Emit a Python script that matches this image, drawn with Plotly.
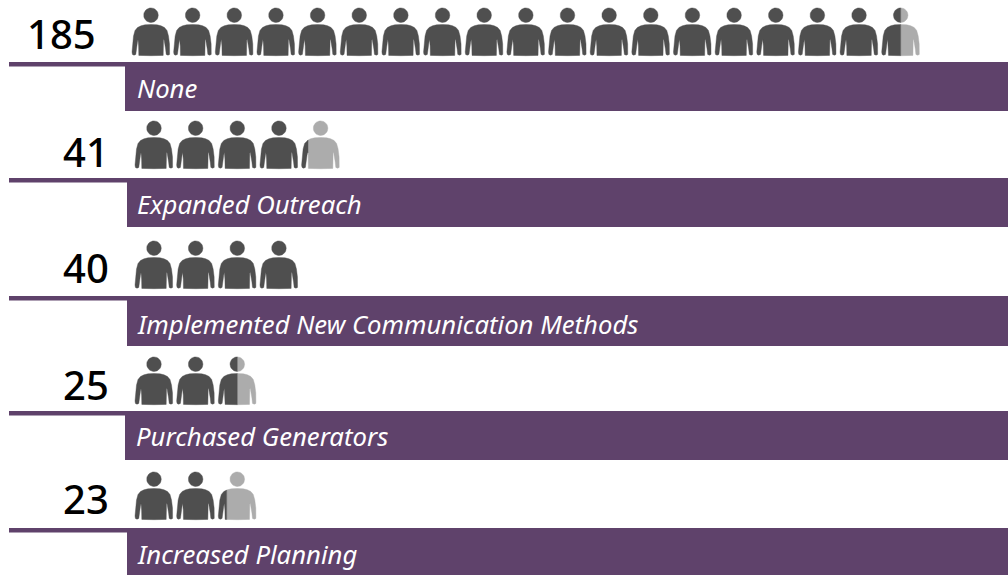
import math
import plotly.graph_objects as go

# --- data ---
values = [185, 41, 40, 25, 23]
labels = ["None", "Expanded Outreach", "Implemented New Communication Methods",
          "Purchased Generators", "Increased Planning"]
icons_shown = [18.5, 4.17, 4.0, 2.5, 2.22]   # icons filled
icon_slots = [19, 5, 4, 3, 3]                # icons drawn

# --- layout (pixel space of the page) ---
W, H = 1008, 575
PURPLE = "#5f426b"
DARK = "#4f4f4f"
LIGHT = "#acacac"
number_right = [97.5, 111, 111, 110.5, 110.5]
number_y = [33, 151.5, 267, 384, 498]
label_x = [134.5, 134.5, 134.5, 133.5, 134.5]
label_y = [88, 204.5, 324, 436.5, 554]
icon_left = [132, 135, 135, 135, 135]
icon_top = [8, 121, 241, 357, 472]
band_left = [125, 127, 127, 125, 127]
band_top = [62, 178, 296, 411, 528]
band_bottom = [111, 227, 346, 460, 575]
PITCH = 41.65
ICON_W = 38.0

half = [(0, 16.5), (6, 16.8), (10, 17.8), (13.5, 19.5), (16, 22.5), (17.5, 28), (18.5, 36),
        (19, 44), (18.6, 46.4), (17, 47.2), (15.2, 46.4), (14.6, 41), (13.6, 34.5), (13, 31.5),
        (12.5, 32), (12.4, 38), (12.2, 47.4), (0, 47.7)]
body = half + [(-x, y) for x, y in reversed(half[1:-1])]
head = [(7.3 * math.cos(a * math.pi / 16), 7.2 + 7.3 * math.sin(a * math.pi / 16)) for a in range(32)]


def clip(poly, cut, keep_left):
    """Cut a polygon along the vertical line x = cut."""
    inside = (lambda p: p[0] <= cut) if keep_left else (lambda p: p[0] >= cut)
    out = []
    for i, p in enumerate(poly):
        q = poly[(i + 1) % len(poly)]
        if inside(p):
            out.append(p)
        if inside(p) != inside(q):
            t = (cut - p[0]) / (q[0] - p[0])
            out.append((cut, p[1] + t * (q[1] - p[1])))
    return out


def add(xs, ys, poly, ox, oy):
    if not poly:
        return
    closed = poly + [poly[0]]
    xs.extend(ox + x for x, _ in closed)
    ys.extend(oy + y for _, y in closed)
    xs.append(None)
    ys.append(None)


dark_x, dark_y, light_x, light_y = [], [], [], []
for r, shown in enumerate(icons_shown):
    for i in range(icon_slots[r]):
        cx = icon_left[r] + ICON_W / 2 + i * PITCH
        f = max(0.0, min(1.0, shown - i))
        cut = -ICON_W / 2 + f * ICON_W
        for part in (body, head):
            add(dark_x, dark_y, clip(part, cut, True), cx, icon_top[r])
            add(light_x, light_y, clip(part, cut, False), cx, icon_top[r])

fig = go.Figure()
for xs, ys, col in ((light_x, light_y, LIGHT), (dark_x, dark_y, DARK)):
    fig.add_trace(go.Scatter(x=xs, y=ys, mode="lines", fill="toself", fillcolor=col,
                             line=dict(color=col, width=0.4), hoverinfo="skip", showlegend=False))

shapes, annotations = [], []
for r, (v, lab) in enumerate(zip(values, labels)):
    shapes.append(dict(type="rect", x0=9, x1=W, y0=band_top[r], y1=band_top[r] + 4.5,
                       fillcolor=PURPLE, line_width=0, layer="below"))
    shapes.append(dict(type="rect", x0=band_left[r], x1=W, y0=band_top[r], y1=band_bottom[r],
                       fillcolor=PURPLE, line_width=0, layer="below"))
    annotations.append(dict(x=number_right[r], y=number_y[r], text=str(v), showarrow=False,
                            xanchor="right", yanchor="middle", xref="x", yref="y",
                            font=dict(family="Noto Sans", size=40, weight=500, color="#000000")))
    annotations.append(dict(x=label_x[r], y=label_y[r], text=f"<i>{lab}</i>",
                            showarrow=False, xanchor="left", yanchor="middle", xref="x", yref="y",
                            font=dict(family="Noto Sans", size=25.7, color="#ffffff")))

fig.update_layout(
    width=W, height=H, margin=dict(l=0, r=0, t=0, b=0),
    paper_bgcolor="white", plot_bgcolor="white", showlegend=False,
    xaxis=dict(range=[0, W], visible=False, fixedrange=True),
    yaxis=dict(range=[H, 0], visible=False, fixedrange=True),
    shapes=shapes, annotations=annotations,
)
fig.write_html("out.html", config=dict(displayModeBar=False),
               post_script="document.body.style.margin='0';document.body.style.overflow='hidden';")
